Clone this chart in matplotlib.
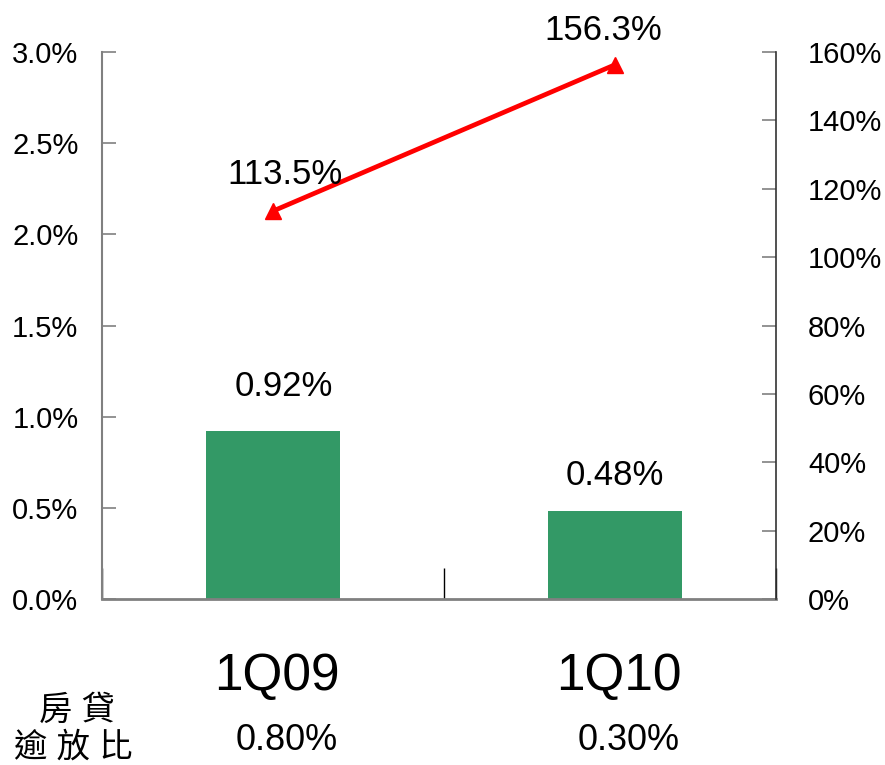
import matplotlib
matplotlib.use("Agg")
import matplotlib.pyplot as plt
from matplotlib.ticker import FuncFormatter

plt.rcParams['font.family'] = ['Liberation Sans', 'Noto Sans CJK TC', 'DejaVu Sans']

quarters = ['1Q09', '1Q10']
npl_ratio = [0.92, 0.48]          # %, bars, left axis
coverage_ratio = [113.5, 156.3]   # %, line, right axis
mortgage_npl = ['0.80%', '0.30%']

bar_color = '#339966'
line_color = '#ff0000'
axis_gray = '#808080'

fig = plt.figure(figsize=(8.85, 7.65), dpi=100)
ax = fig.add_axes([0.1153, 0.217, 0.7615, 0.715])
ax2 = ax.twinx()

x = list(range(len(quarters)))
ax.bar(x, npl_ratio, width=0.39, color=bar_color, zorder=2)
ax.set_xlim(-0.5, 1.47)
ax.set_ylim(0, 3.0)
ax.set_yticks([0, 0.5, 1.0, 1.5, 2.0, 2.5, 3.0])
ax.yaxis.set_major_formatter(FuncFormatter(lambda v, p: f'{v:.1f}%'))
ax.tick_params(axis='y', direction='in', length=10, width=1.2, color=axis_gray,
               labelsize=21, pad=17)
ax.set_xticks([-0.5, 0.5, 1.47])
ax.tick_params(axis='x', direction='in', length=22, width=1, color='black',
               labelbottom=False)

ax.spines['top'].set_visible(False)
ax2.spines['top'].set_visible(False)
ax.spines['left'].set_color(axis_gray)
ax.spines['left'].set_linewidth(1.5)
ax.spines['bottom'].set_color(axis_gray)
ax.spines['bottom'].set_linewidth(2)
ax.spines['right'].set_visible(False)
ax2.spines['left'].set_visible(False)
ax2.spines['bottom'].set_visible(False)
ax2.spines['right'].set_color('#333333')
ax2.spines['right'].set_linewidth(1.2)

ax2.plot(x, coverage_ratio, color=line_color, linewidth=3.4, marker='^',
         markersize=11, zorder=3)
ax2.set_ylim(0, 160)
ax2.set_yticks(range(0, 161, 20))
ax2.yaxis.set_major_formatter(FuncFormatter(lambda v, p: f'{v:.0f}%'))
ax2.tick_params(axis='y', direction='in', length=10, width=1.2, color=axis_gray,
                labelsize=21, pad=23)

# value labels
bar_offsets = [(11, 45), (0, 36)]
for xi, v, off in zip(x, npl_ratio, bar_offsets):
    ax.annotate(f'{v:.2f}%', (xi, v), xytext=off, textcoords='offset pixels',
                ha='center', va='center', fontsize=25)

line_offsets = [(12, 36), (-12, 34)]
for xi, v, off in zip(x, coverage_ratio, line_offsets):
    ax2.annotate(f'{v:.1f}%', (xi, v), xytext=off, textcoords='offset pixels',
                 ha='center', va='center', fontsize=25)

# category labels and mortgage NPL row under the axis
tr = ax.get_xaxis_transform()
for xi, q, m in zip(x, quarters, mortgage_npl):
    ax.text(xi + 0.01, -0.141, q, transform=tr, ha='center', va='center',
            fontsize=37)
    ax.text(xi + 0.04, -0.258, m, transform=tr, ha='center', va='center',
            fontsize=26)

fig.text(77 / 885, 1 - 711 / 765, '房 貸', ha='center', va='center',
         fontsize=24)
fig.text(73 / 885, 1 - 748 / 765, '逾 放 比', ha='center', va='center',
         fontsize=24)

fig.savefig('out.png', dpi=100)
